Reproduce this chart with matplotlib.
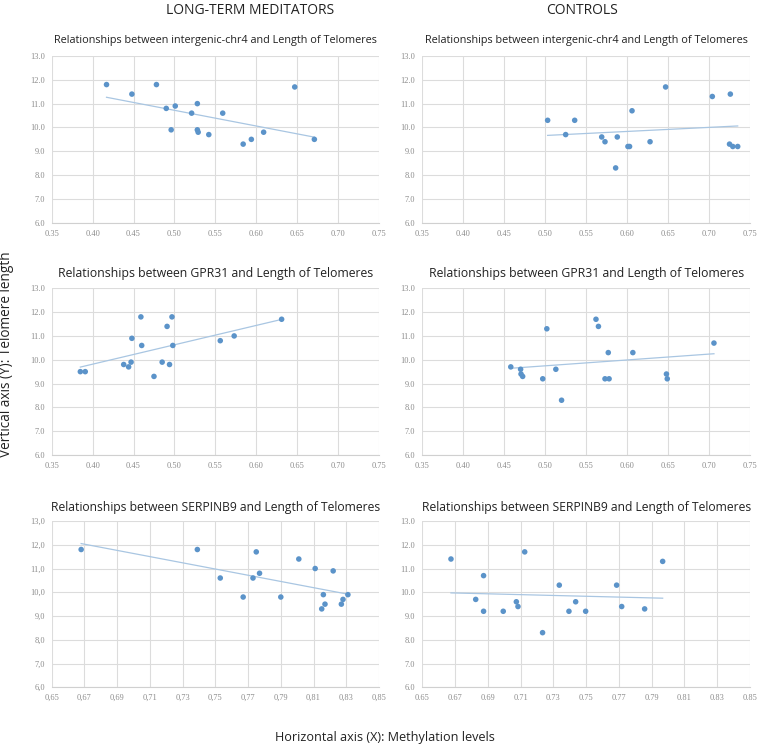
import numpy as np
import matplotlib
matplotlib.use("Agg")
import matplotlib.pyplot as plt
from matplotlib.ticker import FuncFormatter

plt.rcParams['font.family'] = ['Open Sans', 'DejaVu Sans']

# ---------------- data ----------------
ltm_chr4_x = [0.417, 0.448, 0.478, 0.490, 0.496, 0.501, 0.521, 0.528, 0.528, 0.529, 0.542,
              0.559, 0.584, 0.594, 0.609, 0.647, 0.671]
ltm_chr4_y = [11.8, 11.4, 11.8, 10.8, 9.9, 10.9, 10.6, 11.0, 9.9, 9.8, 9.7,
              10.6, 9.3, 9.5, 9.8, 11.7, 9.5]

ctl_chr4_x = [0.503, 0.525, 0.536, 0.569, 0.573, 0.588, 0.601, 0.603, 0.606, 0.586, 0.628,
              0.647, 0.704, 0.726, 0.725, 0.729, 0.735]
ctl_chr4_y = [10.3, 9.7, 10.3, 9.6, 9.4, 9.6, 9.2, 9.2, 10.7, 8.3, 9.4,
              11.7, 11.3, 11.4, 9.3, 9.2, 9.2]

ltm_gpr_x = [0.385, 0.391, 0.438, 0.444, 0.447, 0.448, 0.459, 0.460, 0.475, 0.485, 0.491,
             0.494, 0.497, 0.498, 0.556, 0.573, 0.631]
ltm_gpr_y = [9.5, 9.5, 9.8, 9.7, 9.9, 10.9, 11.8, 10.6, 9.3, 9.9, 11.4,
             9.8, 11.8, 10.6, 10.8, 11.0, 11.7]

ctl_gpr_x = [0.458, 0.470, 0.4705, 0.4725, 0.497, 0.502, 0.513, 0.520, 0.562, 0.565, 0.573,
             0.578, 0.577, 0.607, 0.648, 0.649, 0.706]
ctl_gpr_y = [9.7, 9.6, 9.4, 9.3, 9.2, 11.3, 9.6, 8.3, 11.7, 11.4, 9.2,
             9.2, 10.3, 10.3, 9.4, 9.2, 10.7]

ltm_serp_x = [0.668, 0.739, 0.753, 0.767, 0.773, 0.775, 0.777, 0.790, 0.801, 0.811, 0.815,
              0.816, 0.817, 0.822, 0.827, 0.828, 0.831]
ltm_serp_y = [11.8, 11.8, 10.6, 9.8, 10.6, 11.7, 10.8, 9.8, 11.4, 11.0, 9.3,
              9.9, 9.5, 10.9, 9.5, 9.7, 9.9]

ctl_serp_x = [0.6675, 0.6826, 0.6874, 0.6874, 0.6994, 0.7074, 0.7084, 0.7125, 0.7234, 0.7336, 0.7395,
              0.7436, 0.7497, 0.7686, 0.7717, 0.7857, 0.7967]
ctl_serp_y = [11.4, 9.7, 10.7, 9.2, 9.2, 9.6, 9.4, 11.7, 8.3, 10.3, 9.2,
              9.6, 9.2, 10.3, 9.4, 9.3, 11.3]

titles = ["Relationships between intergenic-chr4 and Length of Telomeres",
          "Relationships between GPR31 and Length of Telomeres",
          "Relationships between SERPINB9 and Length of Telomeres"]
col_headers = ["LONG-TERM MEDITATORS", "CONTROLS"]
xtick_sets = [[0.35, 0.40, 0.45, 0.50, 0.55, 0.60, 0.65, 0.70, 0.75],
              [0.35, 0.40, 0.45, 0.50, 0.55, 0.60, 0.65, 0.70, 0.75],
              [0.65, 0.67, 0.69, 0.71, 0.73, 0.75, 0.77, 0.79, 0.81, 0.83, 0.85]]
yticks = [6.0, 7.0, 8.0, 9.0, 10.0, 11.0, 12.0, 13.0]

panels = [[(ltm_chr4_x, ltm_chr4_y), (ctl_chr4_x, ctl_chr4_y)],
          [(ltm_gpr_x, ltm_gpr_y), (ctl_gpr_x, ctl_gpr_y)],
          [(ltm_serp_x, ltm_serp_y), (ctl_serp_x, ctl_serp_y)]]

# ---------------- layout ----------------
W, H = 758, 744
fig = plt.figure(figsize=(W / 100, H / 100), dpi=100)
fig.patch.set_facecolor('white')

col_left = [51.7, 422.3]
col_right = [379.0, 750.0]
row_top = [56.0, 288.3, 521.0]
row_bot = [222.7, 455.0, 687.3]
title_sizes = [7.8, 8.8, 8.75]
title_pads = [9, 8, 7]

dot_color = '#5b93c9'
trend_color = '#a9c6e2'
grid_color = '#dcdcdc'
tick_color = '#8c8c8c'

for r in range(3):
    for c in range(2):
        x0, x1 = col_left[c], col_right[c]
        y0, y1 = row_top[r], row_bot[r]
        ax = fig.add_axes([x0 / W, 1 - y1 / H, (x1 - x0) / W, (y1 - y0) / H])
        xs, ys = panels[r][c]
        xs = np.array(xs); ys = np.array(ys)
        xt = xtick_sets[r]
        ax.set_xlim(xt[0], xt[-1])
        ax.set_ylim(6.0, 13.0)
        ax.set_xticks(xt)
        ax.set_yticks(yticks)
        ax.grid(True, color=grid_color, linewidth=0.8)
        ax.set_axisbelow(True)
        for s in ax.spines.values():
            s.set_visible(False)
        ax.spines['bottom'].set_visible(True)
        ax.spines['bottom'].set_color('#d0d0d0')
        ax.spines['bottom'].set_linewidth(0.8)
        ax.tick_params(length=0, labelsize=6, labelcolor=tick_color, pad=5)
        comma = (r == 2 and c == 0)
        if comma:
            ax.xaxis.set_major_formatter(FuncFormatter(lambda v, p: f"{v:.2f}".replace('.', ',')))
            ax.yaxis.set_major_formatter(FuncFormatter(lambda v, p: f"{v:.1f}".replace('.', ',')))
        else:
            ax.xaxis.set_major_formatter(FuncFormatter(lambda v, p: f"{v:.2f}"))
            ax.yaxis.set_major_formatter(FuncFormatter(lambda v, p: f"{v:.1f}"))
        for lab in ax.get_xticklabels() + ax.get_yticklabels():
            lab.set_family('Liberation Serif')
        # trend line
        k, b = np.polyfit(xs, ys, 1)
        xx = np.array([xs.min(), xs.max()])
        ax.plot(xx, k * xx + b, color=trend_color, linewidth=0.9, zorder=2)
        ax.scatter(xs, ys, s=16, color=dot_color, edgecolors='none', zorder=3)
        ax.set_title(titles[r], fontsize=title_sizes[r], color='#222222', pad=title_pads[r])

# column headers
fig.text(250 / W, 1 - 10 / H, col_headers[0], ha='center', va='center', fontsize=10, color='#222222')
fig.text(582 / W, 1 - 10 / H, col_headers[1], ha='center', va='center', fontsize=10, color='#222222')

# axis labels
fig.text(7 / W, 1 - 354 / H, "Vertical axis (Y): Telomere length", rotation=90,
         ha='center', va='center', fontsize=9.8, color='#222222')
fig.text(385 / W, 1 - 737 / H, "Horizontal axis (X): Methylation levels",
         ha='center', va='center', fontsize=9.1, color='#222222')

fig.savefig("out.png", dpi=100, facecolor='white')
